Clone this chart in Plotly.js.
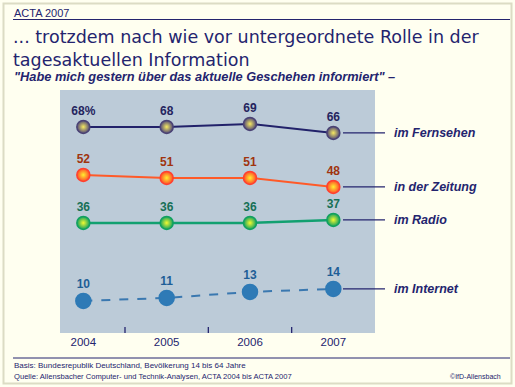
<!DOCTYPE html>
<html><head><meta charset="utf-8">
<script src="https://cdn.plot.ly/plotly-3.0.1.min.js"></script>
<style>html,body{margin:0;padding:0;background:#fffff0;}#chart{width:515px;height:387px;}</style>
</head><body><div id="chart"></div>
<script>
const years = [2004, 2005, 2006, 2007];
const fernsehen = [68, 68, 69, 66];
const zeitung = [52, 51, 51, 48];
const radio = [36, 36, 36, 37];
const internet = [10, 11, 13, 14];
const seriesNames = ["im Fernsehen", "in der Zeitung", "im Radio", "im Internet"];
const valueLabelsFernsehen = ["68%", "68", "69", "66"];
const titleLines = ["... trotzdem nach wie vor untergeordnete Rolle in der", "tagesaktuellen Information"];

const W = 515, H = 387;
const M = {l: 60, r: 140, t: 90, b: 54};
const PW = W - M.l - M.r, PH = H - M.t - M.b;
const px = x => (x - M.l) / PW;
const py = y => (H - M.b - y) / PH;
const navy = "#24246e";
const font = "Liberation Sans, Arial, sans-serif";
const titleFont = "DejaVu Sans, sans-serif";

function series(vals, name, lineColor, lineDash, lineW, mColor, mLine, grad, txtColor, labels, size) {
  const t = {
    x: years, y: vals, name: name, type: "scatter", mode: "lines+markers+text",
    text: labels || vals.map(String), textposition: "top center",
    textfont: {family: font, size: 12, color: txtColor, weight: "bold"},
    line: {color: lineColor, width: lineW, dash: lineDash},
    marker: {size: size, color: mColor, line: {color: mLine, width: 1.5}},
    cliponaxis: false, hoverinfo: "skip"
  };
  if (grad) t.marker.gradient = {type: "radial", color: grad};
  return t;
}

const data = [
  series(fernsehen, seriesNames[0], "#22226a", "solid", 2, "#4e4678", "#4a4274", "#f8ea60", "#24245e", valueLabelsFernsehen, 13),
  series(zeitung, seriesNames[1], "#ff5a28", "solid", 2, "#ff4a28", "#ff4030", "#fff030", "#a0340e", null, 13),
  series(radio, seriesNames[2], "#12a070", "solid", 2.5, "#10a060", "#10a060", "#f4fa30", "#167055", null, 13),
  series(internet, seriesNames[3], "#3a78b0", "dash", 2, "#2e7ab6", "#2e7ab6", null, "#1e5e96", null, 15)
];

const lastVals = [fernsehen[3], zeitung[3], radio[3], internet[3]];
const shapes = [];
const annotations = [];
const x0 = 2003.72, x1 = 2007.5, y0 = -0.7, y1 = 80.3;
lastVals.forEach((v, i) => {
  shapes.push({type: "line", xref: "paper", yref: "y", x0: px(343), x1: px(385), y0: v, y1: v,
    line: {color: navy, width: 1.3}});
  annotations.push({xref: "paper", yref: "y", x: px(392), y: v, text: "<b><i>" + seriesNames[i] + "</i></b>",
    showarrow: false, xanchor: "left", yanchor: "middle", font: {family: font, size: 12.5, color: navy}});
});
// header / footer rules and frame
shapes.push({type: "line", xref: "paper", yref: "paper", x0: px(13), x1: px(510), y0: py(19.5), y1: py(19.5), line: {color: navy, width: 1}});
shapes.push({type: "line", xref: "paper", yref: "paper", x0: px(13), x1: px(510), y0: py(358), y1: py(358), line: {color: navy, width: 1}});
shapes.push({type: "rect", xref: "paper", yref: "paper", x0: px(3.5), x1: px(511.5), y0: py(3.5), y1: py(383.5), line: {color: "#dcdcc4", width: 2}});
// minor ticks between years
[2004.5, 2005.5, 2006.5].forEach(t => {
  shapes.push({type: "line", xref: "x", yref: "paper", x0: t, x1: t, y0: 0, y1: py(327), line: {color: navy, width: 1.3}});
});

annotations.push({xref: "paper", yref: "paper", x: px(12), y: py(12.5), text: "ACTA 2007", showarrow: false, xanchor: "left", yanchor: "middle", font: {family: font, size: 11, color: navy}});
annotations.push({xref: "paper", yref: "paper", x: px(11), y: py(48.5), text: titleLines.join("<br>"), align: "left", showarrow: false, xanchor: "left", yanchor: "middle", font: {family: titleFont, size: 17.5, color: navy}});
annotations.push({xref: "paper", yref: "paper", x: px(12), y: py(76.5), text: "<b><i>\"Habe mich gestern über das aktuelle Geschehen informiert\" –</i></b>", showarrow: false, xanchor: "left", yanchor: "middle", font: {family: font, size: 12.8, color: navy}});
annotations.push({xref: "paper", yref: "paper", x: px(12), y: py(365), text: "Basis: Bundesrepublik Deutschland, Bevölkerung 14 bis 64 Jahre", showarrow: false, xanchor: "left", yanchor: "middle", font: {family: font, size: 8, color: navy}});
annotations.push({xref: "paper", yref: "paper", x: px(12), y: py(376), text: "Quelle: Allensbacher Computer- und Technik-Analysen, ACTA 2004 bis ACTA 2007", showarrow: false, xanchor: "left", yanchor: "middle", font: {family: font, size: 7.6, color: navy}});
annotations.push({xref: "paper", yref: "paper", x: px(503), y: py(376), text: "©IfD-Allensbach", showarrow: false, xanchor: "right", yanchor: "middle", font: {family: font, size: 7, color: navy}});

const layout = {
  width: W, height: H, margin: M,
  paper_bgcolor: "#fffff0", plot_bgcolor: "#bccbd8",
  showlegend: false,
  xaxis: {range: [x0, x1], tickvals: years, ticktext: years.map(String), showgrid: false, zeroline: false,
    ticks: "", showline: false, tickfont: {family: font, size: 11.5, color: navy}, fixedrange: true},
  yaxis: {range: [y0, y1], showgrid: false, zeroline: false, showticklabels: false, ticks: "", fixedrange: true},
  shapes: shapes, annotations: annotations
};
Plotly.newPlot("chart", data, layout, {staticPlot: true, displayModeBar: false});
</script></body></html>
